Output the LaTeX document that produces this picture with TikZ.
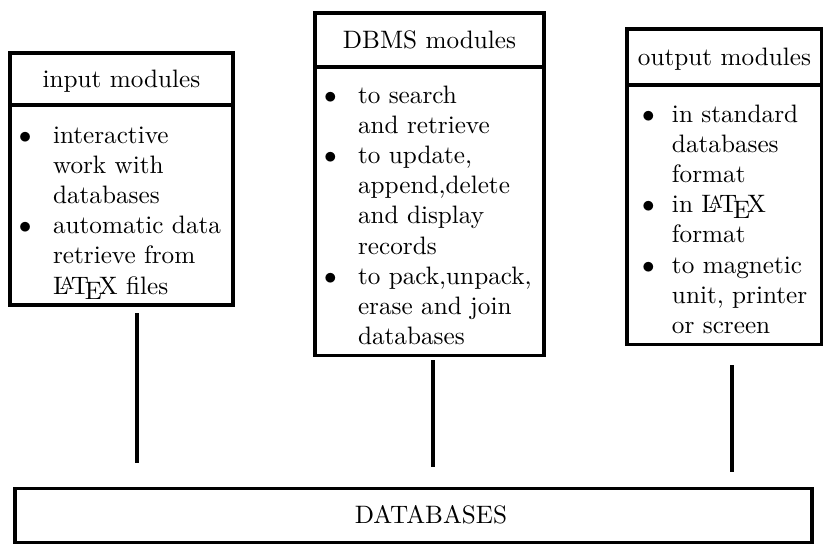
\documentclass[tikz,border=0pt]{standalone}
\usetikzlibrary{calc}
% one drawing unit = one pixel of an 823x548 sheet (y grows downwards)
\def\pu{0.3968pt}
\begin{document}
\begin{tikzpicture}[x=0.3968pt, y=-0.3968pt,
  frame/.style={draw, line width=1.2pt, anchor=north west, inner sep=0pt, outer sep=0pt},
  head/.style={frame, text height=6.9pt, text depth=0pt},
  list/.style={anchor=base west, inner sep=0pt, outer sep=0pt, align=left},
  link/.style={line width=1.5pt}]
\fill[white] (0,0) rectangle (823,548);
\useasboundingbox (0,0) rectangle (823,548);

% input modules
\node[head, minimum width=223*\pu, minimum height=52*\pu] (inh) at (10,53) {input modules};
\node[frame, minimum width=223*\pu, minimum height=200*\pu] (inb) at (inh.south west) {};
\node[list] (inl) at ($(inb.north west)+(9,38)$) {%
  \begin{tabular}[t]{@{}p{13.5pt}@{}l@{}}
  $\bullet$ & interactive\\
            & work with\\
            & databases\\
  $\bullet$ & automatic data\\
            & retrieve from\\
            & \LaTeX\ files
  \end{tabular}};

% DBMS modules
\node[head, minimum width=229*\pu, minimum height=54*\pu] (dbh) at (315,13) {DBMS modules};
\node[frame, minimum width=229*\pu, minimum height=288*\pu] (dbb) at (dbh.south west) {};
\node[list] (dbl) at ($(dbb.north west)+(9,36)$) {%
  \begin{tabular}[t]{@{}p{13.5pt}@{}l@{}}
  $\bullet$ & to search\\
            & and retrieve\\
  $\bullet$ & to update,\\
            & append,delete\\
            & and display\\
            & records\\
  $\bullet$ & to pack,unpack,\\
            & erase and join\\
            & databases
  \end{tabular}};

% output modules
\node[head, minimum width=195*\pu, minimum height=56*\pu] (outh) at (627,29) {output modules};
\node[frame, minimum width=195*\pu, minimum height=259*\pu] (outb) at (outh.south west) {};
\node[list] (outl) at ($(outb.north west)+(15,37)$) {%
  \begin{tabular}[t]{@{}p{11.9pt}@{}l@{}}
  $\bullet$ & in standard\\
            & databases\\
            & format\\
  $\bullet$ & in \LaTeX\\
            & format\\
  $\bullet$ & to magnetic\\
            & unit, printer\\
            & or screen
  \end{tabular}};

% databases
\node[frame, minimum width=797*\pu, minimum height=54*\pu] (db) at (15,488) {};
\node[inner sep=0pt, text height=6.83pt, text depth=0pt] (dbt) at (431,515) {DATABASES};

% connectors
\draw[link] ($(inb.south)+(15.5,8)$) -- ($(inb.south |- db.north)+(15.5,-25)$);
\draw[link] ($(dbb.south)+(3.5,5)$) -- ($(dbb.south |- db.north)+(3.5,-21)$);
\draw[link] ($(outb.south)+(7.5,21)$) -- ($(outb.south |- db.north)+(7.5,-16)$);
\end{tikzpicture}
\end{document}
